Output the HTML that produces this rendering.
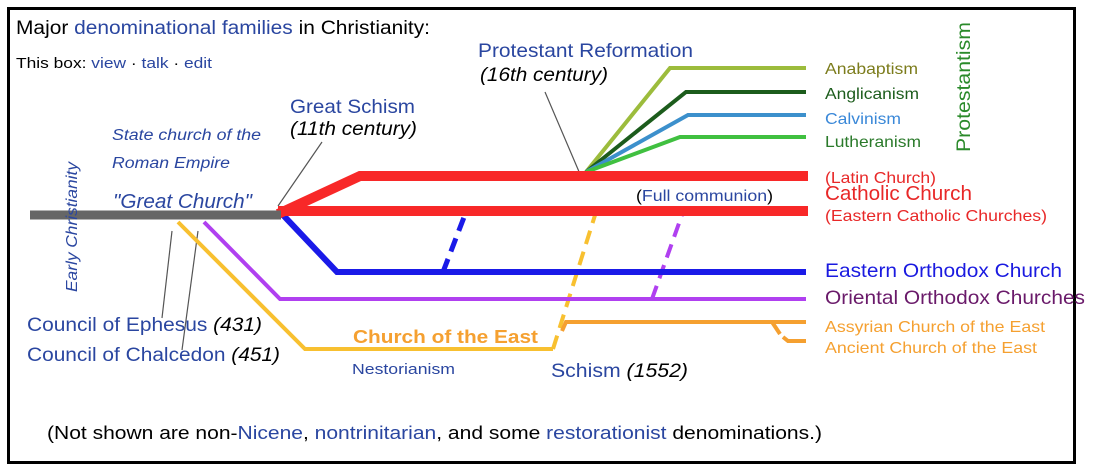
<!DOCTYPE html>
<html><head><meta charset="utf-8"><style>
html,body{margin:0;padding:0;background:#fff;}
svg{display:block;font-family:"Liberation Sans",Arial,sans-serif;}
.b{fill:#2a46a0}
</style></head><body>
<svg width="1094" height="472" viewBox="0 0 1094 472" xmlns="http://www.w3.org/2000/svg">
<rect x="8.5" y="8.5" width="1066" height="454" fill="#fff" stroke="#000" stroke-width="3"/>
<g stroke="#555" stroke-width="1.2" fill="none">
<line x1="278" y1="206" x2="322" y2="142"/>
<line x1="545" y1="92" x2="580" y2="174"/>
<line x1="172" y1="231" x2="162" y2="318"/>
<line x1="198" y1="231" x2="182" y2="350"/>
</g>
<g fill="none" stroke-linejoin="miter">
<polyline points="178,222 305,349 553,349" stroke="#f8c030" stroke-width="4"/>
<line x1="553" y1="349" x2="596" y2="212" stroke="#f8c030" stroke-width="4" stroke-dasharray="14,8"/>
<polyline points="204,222 280,299 806,299" stroke="#b040f0" stroke-width="4"/>
<line x1="652" y1="299" x2="683" y2="212" stroke="#b040f0" stroke-width="4" stroke-dasharray="14,8"/>
<polyline points="283,215 337,272 806,272" stroke="#1a1ae8" stroke-width="6"/>
<line x1="443" y1="272" x2="466" y2="212" stroke="#1a1ae8" stroke-width="5" stroke-dasharray="14,8"/>
<polyline points="562,331 566,322 806,322" stroke="#f5a030" stroke-width="4"/>
<polyline points="772,322 780,334" stroke="#f5a030" stroke-width="4"/>
<polyline points="783,337 788,341 806,341" stroke="#f5a030" stroke-width="4"/>
<polyline points="586,172 670,68 806,68" stroke="#9cbc3c" stroke-width="4"/>
<polyline points="586,172 686,92 806,92" stroke="#1c5c1c" stroke-width="4"/>
<polyline points="586,172 688,115 806,115" stroke="#3c90cc" stroke-width="4"/>
<polyline points="586,172 680,137 806,137" stroke="#40c040" stroke-width="4"/>
<polyline points="278,214 360,176 808,176" stroke="#f82828" stroke-width="10"/>
<line x1="278" y1="211" x2="808" y2="211" stroke="#f82828" stroke-width="10"/>
<line x1="30" y1="215" x2="281" y2="215" stroke="#666" stroke-width="9"/>
</g>
<text x="16" y="34" font-size="19" fill="#000" textLength="414" lengthAdjust="spacingAndGlyphs">Major <tspan class="b">denominational families</tspan> in Christianity:</text>
<text x="16" y="68" font-size="15" fill="#000" textLength="196" lengthAdjust="spacingAndGlyphs">This box: <tspan class="b">view</tspan> · <tspan class="b">talk</tspan> · <tspan class="b">edit</tspan></text>
<text x="478" y="57" font-size="19.5" class="b" textLength="215" lengthAdjust="spacingAndGlyphs">Protestant Reformation</text>
<text x="480" y="81" font-size="19" font-style="italic" fill="#000" textLength="128" lengthAdjust="spacingAndGlyphs">(16th century)</text>
<text x="290" y="113" font-size="19.5" class="b" textLength="125" lengthAdjust="spacingAndGlyphs">Great Schism</text>
<text x="290" y="135" font-size="19" font-style="italic" fill="#000" textLength="127" lengthAdjust="spacingAndGlyphs">(11th century)</text>
<text x="112" y="140" font-size="15.5" font-style="italic" class="b" textLength="149" lengthAdjust="spacingAndGlyphs">State church of the</text>
<text x="112" y="168" font-size="15.5" font-style="italic" class="b" textLength="118" lengthAdjust="spacingAndGlyphs">Roman Empire</text>
<text x="113" y="208" font-size="20" font-style="italic" class="b" textLength="139" lengthAdjust="spacingAndGlyphs">"Great Church"</text>
<text transform="translate(77,292) rotate(-90)" font-size="16" font-style="italic" class="b" textLength="130" lengthAdjust="spacingAndGlyphs">Early Christianity</text>
<text x="825" y="74" font-size="16" fill="#7c7c1c" textLength="93" lengthAdjust="spacingAndGlyphs">Anabaptism</text>
<text x="825" y="99" font-size="16" fill="#1c5c1c" textLength="94" lengthAdjust="spacingAndGlyphs">Anglicanism</text>
<text x="825" y="124" font-size="16" fill="#3a88d8" textLength="76" lengthAdjust="spacingAndGlyphs">Calvinism</text>
<text x="825" y="147" font-size="16" fill="#2a7a2a" textLength="96" lengthAdjust="spacingAndGlyphs">Lutheranism</text>
<text transform="translate(970,152) rotate(-90)" font-size="19.5" fill="#2a8a2a" textLength="130" lengthAdjust="spacingAndGlyphs">Protestantism</text>
<text x="825" y="183" font-size="16" fill="#e82828" textLength="111" lengthAdjust="spacingAndGlyphs">(Latin Church)</text>
<text x="825" y="200" font-size="20" fill="#e82828" textLength="147" lengthAdjust="spacingAndGlyphs">Catholic Church</text>
<text x="825" y="221" font-size="16" fill="#e82828" textLength="222" lengthAdjust="spacingAndGlyphs">(Eastern Catholic Churches)</text>
<text x="636" y="201" font-size="15.5" fill="#000" textLength="137" lengthAdjust="spacingAndGlyphs">(<tspan class="b">Full communion</tspan>)</text>
<text x="825" y="277" font-size="19.5" fill="#1a1ae0" textLength="237" lengthAdjust="spacingAndGlyphs">Eastern Orthodox Church</text>
<text x="825" y="304" font-size="19.5" fill="#6a1a6a" textLength="260" lengthAdjust="spacingAndGlyphs">Oriental Orthodox Churches</text>
<text x="825" y="332" font-size="16" fill="#f5a030" textLength="220" lengthAdjust="spacingAndGlyphs">Assyrian Church of the East</text>
<text x="825" y="353" font-size="16" fill="#f5a030" textLength="212" lengthAdjust="spacingAndGlyphs">Ancient Church of the East</text>
<text x="27" y="331" font-size="19" class="b" textLength="235" lengthAdjust="spacingAndGlyphs">Council of Ephesus <tspan font-style="italic" fill="#000">(431)</tspan></text>
<text x="27" y="361" font-size="19" class="b" textLength="253" lengthAdjust="spacingAndGlyphs">Council of Chalcedon <tspan font-style="italic" fill="#000">(451)</tspan></text>
<text x="353" y="343" font-size="18.5" font-weight="bold" fill="#f5a030" textLength="185" lengthAdjust="spacingAndGlyphs">Church of the East</text>
<text x="352" y="374" font-size="15" class="b" textLength="103" lengthAdjust="spacingAndGlyphs">Nestorianism</text>
<text x="551" y="377" font-size="19" class="b" textLength="137" lengthAdjust="spacingAndGlyphs">Schism <tspan font-style="italic" fill="#000">(1552)</tspan></text>
<text x="47" y="439" font-size="18.5" fill="#000" textLength="775" lengthAdjust="spacingAndGlyphs">(Not shown are non-<tspan class="b">Nicene</tspan>, <tspan class="b">nontrinitarian</tspan>, and some <tspan class="b">restorationist</tspan> denominations.)</text>
</svg>
</body></html>
